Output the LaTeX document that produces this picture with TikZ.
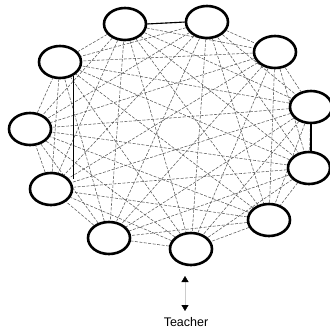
\documentclass[tikz,border=0pt]{standalone}
\usepackage{fontspec}
\setmainfont{Liberation Sans}
\usetikzlibrary{shapes.geometric,arrows.meta,backgrounds}
\begin{document}
\begin{tikzpicture}[x=1pt,y=-1pt,
  peer/.style={draw=black, ellipse, line width=2.6pt, fill=white, minimum width=42pt, minimum height=32pt, inner sep=0pt},
  link/.style={draw=black!65, line width=0.55pt, dash pattern=on 3pt off 1.5pt},
  solidlink/.style={draw=black, line width=1.1pt},
  label/.style={font=\fontsize{12.5}{14}\selectfont, inner sep=0pt}]
\useasboundingbox (0,0) rectangle (330,333);
\node[peer] (n1) at (125,24) {};
\node[peer] (n2) at (207,22) {};
\node[peer] (n3) at (275,52) {};
\node[peer] (n4) at (311,107) {};
\node[peer] (n5) at (309,168) {};
\node[peer] (n6) at (269,220) {};
\node[peer] (n7) at (191,249) {};
\node[peer] (n8) at (109,238) {};
\node[peer] (n9) at (51,189) {};
\node[peer] (n10) at (30,129) {};
\node[peer] (n11) at (60,62) {};
\node[label] (teacher) at (186,322) {Teacher};
\coordinate (atop) at (185,276);
\coordinate (abot) at (185,311);
\begin{pgfonlayer}{background}
\foreach \i in {1,...,10} {
  \pgfmathtruncatemacro{\s}{\i+1}
  \foreach \j in {\s,...,11} {
    \draw[link] (n\i) -- (n\j);
  }
}
\end{pgfonlayer}
\draw[solidlink] (n1.east) -- (n2.west);
\draw[solidlink] (n5.north) ++(2,0) coordinate (c5) -- (c5 |- n4.south);
\draw[solidlink] (n11.-46) -- (n11.-46 |- n9.30);
\draw[black!20, line width=0.4pt, {Triangle[length=6pt,width=7pt,color=black]}-{Triangle[length=6pt,width=7pt,color=black]}] (atop) -- (abot);
\end{tikzpicture}
\end{document}
